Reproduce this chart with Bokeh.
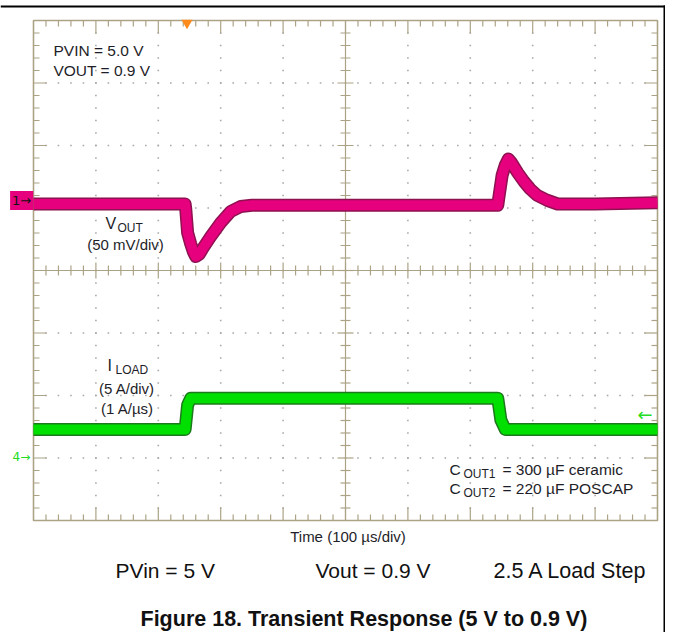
import numpy as np
from bokeh.plotting import figure
from bokeh.models import Range1d, Label
from bokeh.embed import file_html
from bokeh.resources import INLINE

# ---------------- data ----------------
# time in microseconds (100 us/div, 10 div)
vout_t = [0, 100, 200, 243, 244, 247, 252, 256, 260, 266, 272, 284, 300, 316, 332, 350,
          400, 500, 600, 700, 744, 746, 751, 756, 761, 766, 776, 786, 796, 807, 823, 840,
          900, 1000]
# VOUT deviation in mV (50 mV/div)
vout_mv = [-2, -2, -2, -2, -6, -25, -34, -40, -44, -42, -37, -28, -17, -8, -4, -3,
           -3, -3, -3, -3, -3, 4, 21, 29, 34, 31, 23, 16, 10, 5, 1, -2,
           -2, -1]
# load current in A (5 A/div)
iload_t = [0, 243, 247, 252, 744, 749, 756, 1000]
iload_a = [2.25, 2.25, 4.2, 4.75, 4.75, 3.0, 2.25, 2.25]

x_divs = list(range(0, 1001, 100))
y_divs = list(range(-4, 5))

top_notes = ["PVIN = 5.0 V", "VOUT = 0.9 V"]
cond_texts = ["PVin = 5 V", "Vout = 0.9 V", "2.5 A Load Step"]
caption = "Figure 18. Transient Response (5 V to 0.9 V)"
time_label = "Time (100 µs/div)"

# ---------------- styles ----------------
TAN = "#aca386"
DOT = "#a8a8a8"
MAG = "#e6007e"
MAG_DARK = "#8e1150"
GRN = "#00e000"
GRN_DARK = "#1c7a1c"
TXT = "#1e1e28"
FONT = "Liberation Sans"
PXX = 1000.0 / 624.0   # microseconds per pixel
PXY = 1.0 / 62.5       # divisions per pixel

W, H = 665, 632
FL, FT = 33, 20        # frame left / top pixel
p = figure(width=W, height=H,
           x_range=Range1d(-FL * PXX, (W - FL) * PXX),
           y_range=Range1d(4 - (H - FT) * PXY, 4 + FT * PXY),
           output_backend="svg", toolbar_location=None,
           x_axis_location=None, y_axis_location=None,
           min_border=0, outline_line_color=None,
           background_fill_color="white", border_fill_color="white")
p.xgrid.visible = False
p.ygrid.visible = False

y0, y1 = p.y_range.start, p.y_range.end
V_GND, I_GND = 1.104, -2.992   # ground markers in divisions
p.extra_y_ranges = {
    "v": Range1d((y0 - V_GND) * 50, (y1 - V_GND) * 50),
    "i": Range1d((y0 - I_GND) * 5, (y1 - I_GND) * 5),
}

fine_y = np.round(np.arange(-4, 4.01, 0.2), 2)
fine_x = np.arange(0, 1001, 20)

# dotted graticule
dx, dy = [], []
for xv in x_divs[1:-1]:
    if xv == 500:
        continue
    for yv in fine_y[1:-1]:
        dx.append(xv); dy.append(yv)
for yv in y_divs[1:-1]:
    if yv == 0:
        continue
    for xv in fine_x[1:-1]:
        dx.append(xv); dy.append(yv)
p.scatter(dx, dy, marker="square", size=1.6, fill_color=DOT, line_color=None)

# graticule ticks (edges point inward, centre cross both ways)
sx0, sy0, sx1, sy1 = [], [], [], []
for xv in fine_x[1:-1]:
    major = xv % 100 == 0
    L = (13 if major else 6) * PXY
    sx0 += [xv, xv]; sx1 += [xv, xv]
    sy0 += [4, -4]; sy1 += [4 - L, -4 + L]
    c = (8 if major else 5) * PXY
    sx0.append(xv); sx1.append(xv); sy0.append(-c); sy1.append(c)
for yv in fine_y[1:-1]:
    major = abs(yv - round(yv)) < 1e-6
    L = (13 if major else 6) * PXX
    sy0 += [yv, yv]; sy1 += [yv, yv]
    sx0 += [0, 1000]; sx1 += [L, 1000 - L]
    c = (8 if major else 5) * PXX
    sy0.append(yv); sy1.append(yv); sx0.append(500 - c); sx1.append(500 + c)
# centre cross lines
sx0 += [500, 0]; sx1 += [500, 1000]; sy0 += [-4, 0]; sy1 += [4, 0]
p.segment(sx0, sy0, sx1, sy1, line_color=TAN, line_width=1.2)
# frame
p.quad(left=[0], right=[1000], bottom=[-4], top=[4], fill_color=None,
       line_color=TAN, line_width=1.6)

# traces
p.line(vout_t, vout_mv, y_range_name="v", line_width=13, line_color=MAG_DARK, line_join="round")
p.line(vout_t, vout_mv, y_range_name="v", line_width=10, line_color=MAG, line_join="round")
p.line(iload_t, iload_a, y_range_name="i", line_width=13, line_color=GRN_DARK, line_join="round")
p.line(iload_t, iload_a, y_range_name="i", line_width=10, line_color=GRN, line_join="round")

# trigger marker
p.scatter([246.0], [3.96], marker="inverted_triangle", size=11, fill_color="#ff8a1c", line_color=None)


def lab(x, y, text, size="15px", color=TXT, align="left", style="normal", font=FONT, **kw):
    # y is the vertical centre of the capitals, in divisions
    p.add_layout(Label(x=x, y=y, text=text, text_font=font, text_font_size=size,
                       text_color=color, text_align=align, text_baseline="middle",
                       text_font_style=style, **kw))


# scope annotations
lab(32.0, 3.528, top_notes[0], "15.5px")
lab(32.0, 3.208, top_notes[1], "15.5px")
lab(115.4, 0.752, "V", "16px")
lab(134.6, 0.688, "OUT", "12px")
lab(147.4, 0.424, "(50 mV/div)", "15px", align="center")
lab(118.6, -1.52, "I", "16px")
lab(131.4, -1.584, "LOAD", "12px")
lab(149.8, -1.888, "(5 A/div)", "15px", align="center")
lab(150.6, -2.208, "(1 A/µs)", "15px", align="center")
lab(666.7, -3.184, "C", "15.5px")
lab(689.1, -3.256, "OUT1", "12px")
lab(751.6, -3.184, "= 300 µF ceramic", "15.5px")
lab(666.7, -3.48, "C", "15.5px")
lab(689.1, -3.56, "OUT2", "12px")
lab(751.6, -3.48, "= 220 µF POSCAP", "15.5px")
lab(504, -4.256, time_label, "15px", align="center")

# channel markers
lab(-37.5, 1.12, "1→", "13px", color="#111111", font="DejaVu Sans",
    background_fill_color=MAG, padding=2)
lab(-33.5, -2.99, "4→", "12px", color="#22dd22", font="DejaVu Sans")
lab(968.0, -2.304, "←", "18px", color="#22dd22", font="DejaVu Sans")

# captions below
lab(131.4, -4.8, cond_texts[0], "21px", color="#111111")
lab(451.9, -4.8, cond_texts[1], "21px", color="#111111")
lab(737.2, -4.8, cond_texts[2], "21.5px", color="#111111")
lab(171.5, -5.576, caption, "21.5px", color="#111111", style="bold")

# page frame lines (top and right)
xr = p.x_range
p.quad(left=[xr.start, 630 * PXX], right=[632 * PXX, 632 * PXX],
       top=[(270 - 5) * PXY, (270 - 5) * PXY], bottom=[(270 - 7) * PXY, y0],
       fill_color="black", line_color=None)

open("out.html", "w").write(file_html(p, INLINE))
